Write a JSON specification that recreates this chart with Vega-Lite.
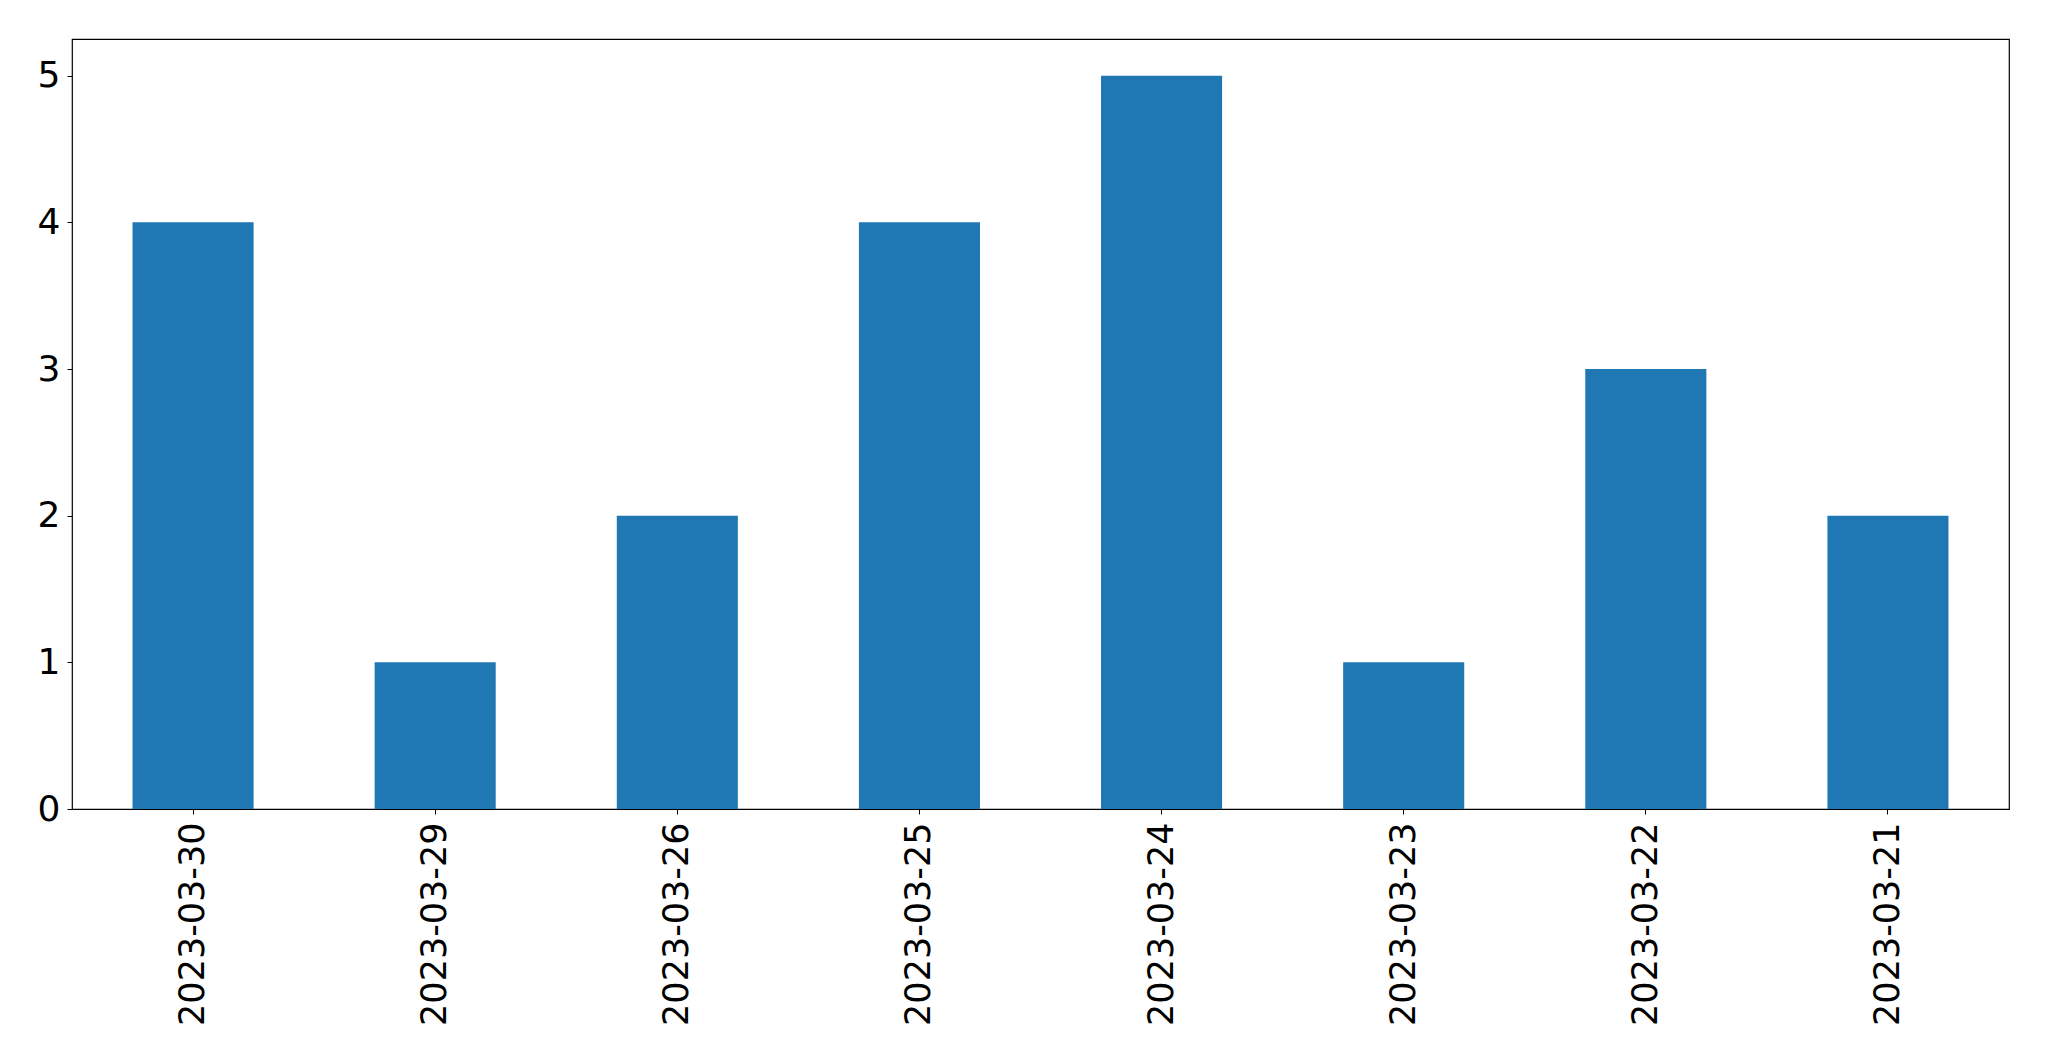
{
  "$schema": "https://vega.github.io/schema/vega-lite/v6.json",
  "width": 1937,
  "height": 770,
  "autosize": {"type": "none"},
  "padding": {"left": 72, "top": 39, "right": 40, "bottom": 252},
  "background": "white",
  "data": {
    "values": [
      {"date": "2023-03-30", "count": 4},
      {"date": "2023-03-29", "count": 1},
      {"date": "2023-03-26", "count": 2},
      {"date": "2023-03-25", "count": 4},
      {"date": "2023-03-24", "count": 5},
      {"date": "2023-03-23", "count": 1},
      {"date": "2023-03-22", "count": 3},
      {"date": "2023-03-21", "count": 2}
    ]
  },
  "mark": {"type": "bar", "color": "#1f77b4"},
  "encoding": {
    "x": {
      "field": "date",
      "type": "nominal",
      "sort": null,
      "scale": {"paddingInner": 0.5, "paddingOuter": 0.25},
      "axis": {
        "title": null,
        "labelAngle": -90,
        "labelFont": "DejaVu Sans",
        "labelFontSize": 35,
        "labelLimit": 1000,
        "labelColor": "black",
        "labelPadding": 8,
        "tickSize": 5,
        "tickColor": "black",
        "tickWidth": 1,
        "domain": false,
        "grid": false
      }
    },
    "y": {
      "field": "count",
      "type": "quantitative",
      "scale": {"domain": [0, 5.25], "nice": false},
      "axis": {
        "title": null,
        "values": [0, 1, 2, 3, 4, 5],
        "labelFont": "DejaVu Sans",
        "labelFontSize": 36,
        "labelColor": "black",
        "labelPadding": 7,
        "tickSize": 5,
        "tickColor": "black",
        "tickWidth": 1,
        "domain": false,
        "grid": false
      }
    }
  },
  "config": {
    "view": {"stroke": "black", "strokeWidth": 1.2}
  }
}
